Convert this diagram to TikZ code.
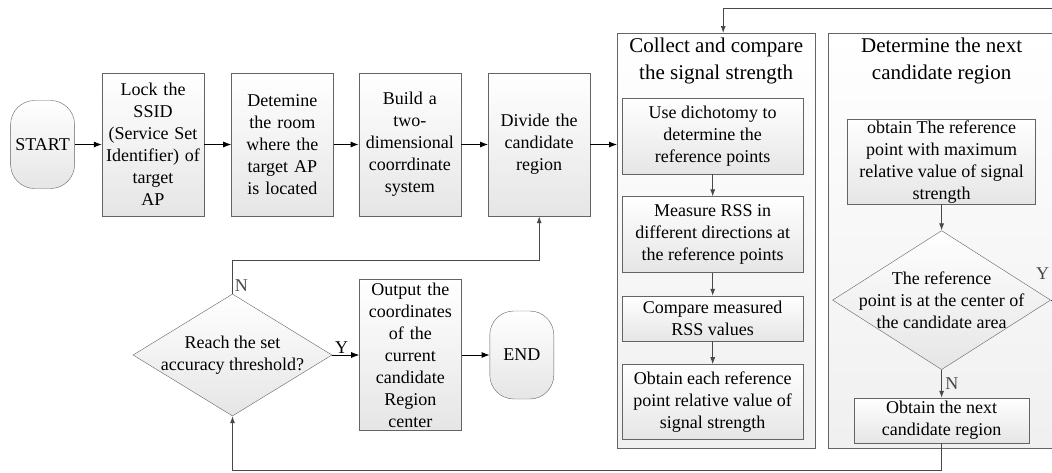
\documentclass[tikz,border=0pt]{standalone}
\usepackage{fontspec}
\setmainfont{Liberation Serif}
\usetikzlibrary{arrows.meta,positioning,shapes.geometric}
\definecolor{EdgeGray}{RGB}{100,100,100}
\definecolor{FlowGray}{RGB}{72,72,72}
\tikzset{
  boxfont/.style={font=\fontsize{18}{22}\selectfont},
  stepbox/.style={draw=EdgeGray,top color=white,bottom color=gray!20,
    minimum width=102pt,minimum height=143pt,text width=98pt,align=center,
    inner sep=0pt,boxfont},
  termbox/.style={draw=EdgeGray,top color=white,bottom color=gray!20,
    rounded corners=24pt,minimum width=64pt,minimum height=88pt,
    inner sep=0pt,boxfont},
  panel/.style={draw=EdgeGray,top color=white,bottom color=gray!12,
    minimum width=198pt,minimum height=415pt},
  paneltitle/.style={align=center,inner sep=2pt,
    font=\fontsize{21}{27}\selectfont},
  innerbox/.style={draw=EdgeGray,top color=white,bottom color=gray!20,
    minimum width=181pt,align=center,inner sep=0pt,boxfont},
  decision/.style={diamond,draw=EdgeGray,top color=white,bottom color=gray!20,
    align=center,inner sep=-12pt,boxfont},
  arrow/.style={-{Latex[length=8pt,width=6pt]},line width=0.8pt,black},
  flow/.style={-{Latex[length=7pt,width=5pt]},line width=0.8pt,FlowGray}
}

\begin{document}
\begin{tikzpicture}[x=1pt,y=-1pt,node distance=27pt]
  \useasboundingbox (0,0) rectangle (1052,472);
  \clip (0,0) rectangle (1052,472);

  % first row
  \node[stepbox] (lock) at (153,144.5) {Lock the\\SSID\\(Service Set\\Identifier) of\\target\\AP};
  \node[termbox,left=of lock] (start) {START};
  \node[stepbox,right=of lock] (room) {Detemine\\the room\\where the\\target AP\\is located};
  \node[stepbox,right=25pt of room] (axes) {Build a\\two-\\dimensional\\coorrdinate\\system};
  \node[stepbox,right=of axes] (divide) {Divide the\\candidate\\region};

  % stage one
  \node[panel,anchor=north west] (collect) at (617,33) {};
  \node[paneltitle,below=3pt of collect.north] (collecttitle) {Collect and compare\\the signal strength};
  \node[innerbox,below=65pt of collect.north,xshift=-3.5pt,minimum height=76pt] (dicho) {Use dichotomy to\\determine the\\reference points};
  \node[innerbox,below=22pt of dicho,minimum height=76pt] (measure) {Measure RSS in\\different directions at\\the reference points};
  \node[innerbox,below=23pt of measure,minimum height=45pt] (compare) {Compare measured\\RSS values};
  \node[innerbox,below=23pt of compare,minimum height=75pt] (relative) {Obtain each reference\\point relative value of\\signal strength};

  % stage two
  \node[panel,right=13pt of collect,minimum width=226pt] (nextstage) {};
  \node[paneltitle,below=3pt of nextstage.north] (nexttitle) {Determine the next\\candidate region};
  \node[innerbox,below=86pt of nextstage.north,minimum width=188pt,minimum height=85pt] (maxpoint) {obtain The reference\\point with maximum\\relative value of signal\\strength};
  \node[decision,below=26pt of maxpoint,aspect=1.57,minimum width=218pt,minimum height=139pt] (centre) {The reference\\point is at the center of\\the candidate area};
  \node[innerbox,below=28pt of centre,minimum width=175pt,minimum height=45pt] (nextregion) {Obtain the next\\candidate region};

  % second row
  \node[decision,aspect=1.63,minimum width=199pt,minimum height=122pt] (reach) at (232.5,355) {Reach the set\\accuracy threshold?};
  \node[stepbox,right=of reach,minimum height=151pt] (output) {Output the\\coordinates\\of the\\current\\candidate\\Region\\center};
  \node[termbox,right=28pt of output] (finish) {END};

  \draw[arrow] (start) -- (lock);
  \draw[arrow] (lock) -- (room);
  \draw[arrow] (room) -- (axes);
  \draw[arrow] (axes) -- (divide);
  \draw[arrow] (divide.east) -- (divide.east -| collect.west);

  \draw[flow] (dicho) -- (measure);
  \draw[flow] (measure) -- (compare);
  \draw[flow] (compare) -- (relative);
  \draw[flow] (maxpoint) -- (centre);
  \draw[flow] (centre) -- node[right,boxfont]{N} (nextregion);

  % loops back
  \draw[flow] (centre.east) node[anchor=south east,yshift=17pt,xshift=2pt,boxfont]{Y}
    -- ++(25,0) |- ([xshift=7pt,yshift=25pt]collect.north) -- ([xshift=7pt]collect.north);
  \draw[flow] (nextregion.south) -- ++(0,27) -| (reach.south);
  \draw[flow] (reach.north) node[anchor=south west,inner sep=2pt,boxfont]{N}
    -- ++(0,-33) -| (divide.south);

  \draw[arrow] (reach) -- node[above,pos=0.35,inner sep=1pt,boxfont]{Y} (output);
  \draw[arrow] (output) -- (finish);
\end{tikzpicture}
\end{document}
